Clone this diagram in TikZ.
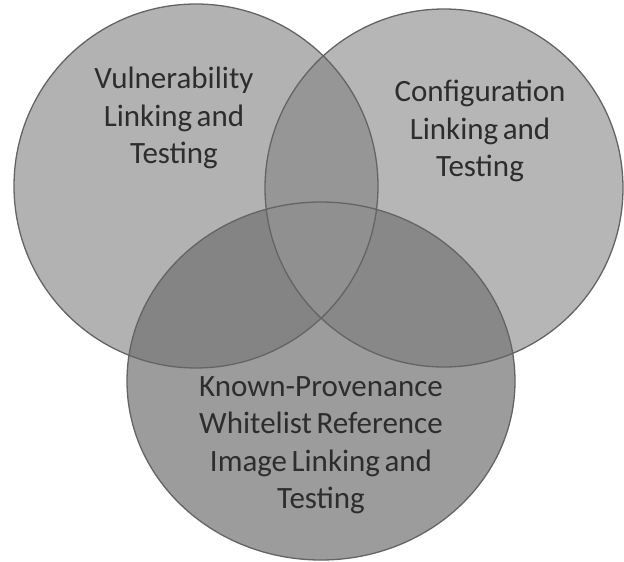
\documentclass[tikz,border=0pt]{standalone}
\usepackage{fontspec}
\setmainfont{Carlito}
\definecolor{cA}{RGB}{178,178,178}
\definecolor{cB}{RGB}{182,182,182}
\definecolor{cC}{RGB}{156,156,156}
\definecolor{cAB}{RGB}{150,150,150}
\definecolor{cAC}{RGB}{132,132,132}
\definecolor{cBC}{RGB}{136,136,136}
\definecolor{cABC}{RGB}{144,144,144}
\definecolor{edge}{RGB}{100,100,100}
\definecolor{txt}{RGB}{45,45,45}
\newcommand\myLblFont{\fontsize{31}{37.5}\selectfont\spaceskip=4.5pt plus 1pt\relax}
\tikzset{
  lbl/.style={align=center, text=txt, font=\myLblFont, inner sep=0pt},
  rim/.style={draw=edge, line width=1.3pt}
}
\begin{document}
\begin{tikzpicture}[x=1pt,y=-1pt]
\useasboundingbox (0,0) rectangle (624,562);
\fill[white] (0,0) rectangle (624,562);
\def\cirA{(196,186) circle [radius=182pt]}
\def\cirB{(444,188) circle [radius=179pt]}
\def\cirC{(321,381) ellipse [x radius=194pt, y radius=179pt]}
\fill[cA] \cirA;
\fill[cB] \cirB;
\fill[cC] \cirC;
\begin{scope}
  \clip \cirA;
  \fill[cAB] \cirB;
  \fill[cAC] \cirC;
\end{scope}
\begin{scope}
  \clip \cirB;
  \fill[cBC] \cirC;
\end{scope}
\begin{scope}
  \clip \cirA;
  \clip \cirB;
  \fill[cABC] \cirC;
\end{scope}
\draw[rim] \cirA;
\draw[rim] \cirB;
\draw[rim] \cirC;
\node[lbl] (vul) at (174,118) {Vulnerability\\Linking and\\Testing};
\node[lbl] (conf) at (480,131) {Configuration\\Linking and\\Testing};
\node[lbl] (known) at (321,445) {Known-Provenance\\Whitelist Reference\\Image Linking and\\Testing};
\end{tikzpicture}
\end{document}
